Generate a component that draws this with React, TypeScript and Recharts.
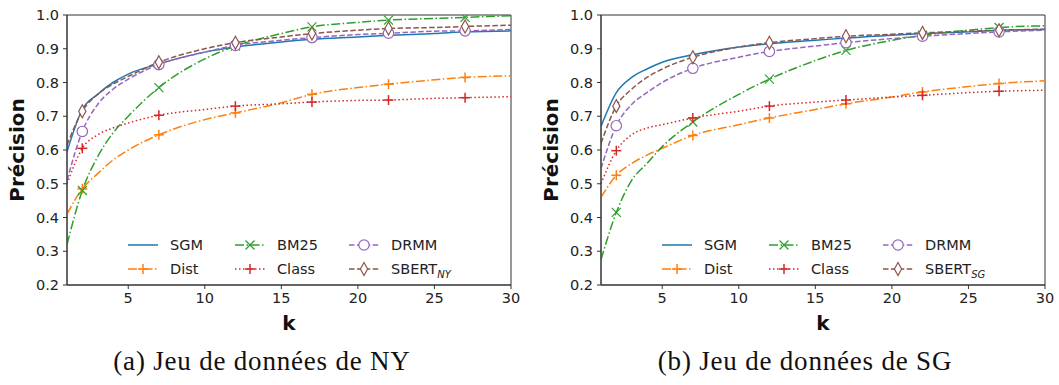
import React from 'react';
import {
  LineChart,
  Line,
  XAxis,
  YAxis,
  ReferenceArea,
} from 'recharts';

const KS = [1, 2, 3, 4, 5, 7, 10, 12, 15, 17, 20, 22, 25, 27, 30];
const MARKER_KS = [2, 7, 12, 17, 22, 27];
const X_TICKS = [5, 10, 15, 20, 25, 30];
const Y_TICKS = [0.2, 0.3, 0.4, 0.5, 0.6, 0.7, 0.8, 0.9, 1.0];

// (a) NY dataset
const nySGM = [0.595, 0.72, 0.765, 0.8, 0.825, 0.855, 0.89, 0.905, 0.92, 0.928, 0.935, 0.94, 0.945, 0.95, 0.953];
const nyDist = [0.41, 0.485, 0.53, 0.57, 0.6, 0.645, 0.69, 0.71, 0.74, 0.765, 0.785, 0.795, 0.808, 0.815, 0.82];
const nyBM25 = [0.32, 0.48, 0.58, 0.65, 0.7, 0.785, 0.87, 0.908, 0.945, 0.965, 0.978, 0.985, 0.99, 0.993, 0.998];
const nyClass = [0.5, 0.605, 0.645, 0.665, 0.68, 0.703, 0.72, 0.73, 0.737, 0.742, 0.747, 0.748, 0.753, 0.755, 0.758];
const nyDRMM = [0.51, 0.655, 0.735, 0.78, 0.81, 0.853, 0.89, 0.91, 0.925, 0.933, 0.942, 0.946, 0.952, 0.953, 0.957];
const nySBERT = [0.615, 0.715, 0.765, 0.795, 0.818, 0.86, 0.9, 0.918, 0.935, 0.945, 0.955, 0.96, 0.963, 0.966, 0.97];

// (b) SG dataset
const sgSGM = [0.67, 0.77, 0.815, 0.84, 0.86, 0.882, 0.905, 0.915, 0.925, 0.932, 0.94, 0.945, 0.95, 0.955, 0.957];
const sgDist = [0.46, 0.525, 0.56, 0.585, 0.605, 0.643, 0.675, 0.695, 0.72, 0.737, 0.757, 0.772, 0.788, 0.797, 0.805];
const sgBM25 = [0.275, 0.415, 0.51, 0.56, 0.61, 0.683, 0.765, 0.81, 0.865, 0.895, 0.925, 0.94, 0.955, 0.963, 0.968];
const sgClass = [0.5, 0.598, 0.645, 0.665, 0.675, 0.695, 0.715, 0.73, 0.742, 0.748, 0.757, 0.762, 0.77, 0.774, 0.777];
const sgDRMM = [0.545, 0.672, 0.735, 0.77, 0.8, 0.842, 0.875, 0.892, 0.908, 0.918, 0.93, 0.937, 0.945, 0.95, 0.955];
const sgSBERT = [0.62, 0.73, 0.78, 0.815, 0.84, 0.875, 0.905, 0.918, 0.93, 0.937, 0.943, 0.947, 0.952, 0.955, 0.958];

type Marker = 'none' | 'plus' | 'x' | 'circle' | 'diamond';

interface SeriesStyle {
  key: string;
  name: string;
  color: string;
  dash?: string;
  marker: Marker;
}

const STYLES: SeriesStyle[] = [
  { key: 'sgm', name: 'SGM', color: '#1f77b4', marker: 'none' },
  { key: 'dist', name: 'Dist', color: '#ff7f0e', dash: '9 2.5 1.5 2.5', marker: 'plus' },
  { key: 'bm25', name: 'BM25', color: '#2ca02c', dash: '9 2.5 1.5 2.5', marker: 'x' },
  { key: 'cls', name: 'Class', color: '#d62728', dash: '1.5 2.5', marker: 'plus' },
  { key: 'drmm', name: 'DRMM', color: '#9467bd', dash: '5.5 2.4', marker: 'circle' },
  { key: 'sbert', name: 'SBERT', color: '#8c564b', dash: '5.5 2.4', marker: 'diamond' },
];

const FONT = '"DejaVu Sans", sans-serif';

function MarkerShape({ type, cx, cy, color }: { type: Marker; cx: number; cy: number; color: string }) {
  if (type === 'plus') {
    return (
      <g stroke={color} strokeWidth={1.5}>
        <line x1={cx - 5} y1={cy} x2={cx + 5} y2={cy} />
        <line x1={cx} y1={cy - 5} x2={cx} y2={cy + 5} />
      </g>
    );
  }
  if (type === 'x') {
    return (
      <g stroke={color} strokeWidth={1.2}>
        <line x1={cx - 4.5} y1={cy - 4.5} x2={cx + 4.5} y2={cy + 4.5} />
        <line x1={cx - 4.5} y1={cy + 4.5} x2={cx + 4.5} y2={cy - 4.5} />
      </g>
    );
  }
  if (type === 'circle') {
    return <circle cx={cx} cy={cy} r={5.2} fill="white" stroke={color} strokeWidth={1.2} />;
  }
  if (type === 'diamond') {
    return (
      <polygon
        points={`${cx},${cy - 6.5} ${cx + 3.6},${cy} ${cx},${cy + 6.5} ${cx - 3.6},${cy}`}
        fill="white"
        stroke={color}
        strokeWidth={1.2}
      />
    );
  }
  return null;
}

function makeDot(s: SeriesStyle) {
  return (props: any) => {
    const { cx, cy, payload, index } = props;
    if (s.marker === 'none' || !MARKER_KS.includes(payload.k)) {
      return <g key={`${s.key}-${index}`} />;
    }
    return (
      <g key={`${s.key}-${index}`}>
        <MarkerShape type={s.marker} cx={cx} cy={cy} color={s.color} />
      </g>
    );
  };
}

function LegendBox({ sub }: { sub: string }) {
  // matplotlib-like legend, 3 columns x 2 rows (column-major order)
  const colX = [61, 168, 282];
  const rowY = [12, 36];
  return (
    <svg width={400} height={50} style={{ overflow: 'visible', display: 'block' }}>
      {STYLES.map((s, i) => {
        const col = Math.floor(i / 2);
        const row = i % 2;
        const x = colX[col];
        const y = rowY[row];
        return (
          <g key={s.key}>
            <line x1={x} y1={y} x2={x + 30} y2={y} stroke={s.color} strokeWidth={1.5} strokeDasharray={s.dash} />
            <MarkerShape type={s.marker} cx={x + 15} cy={y} color={s.color} />
            <text x={x + 42} y={y + 5} fontFamily={FONT} fontSize={14.5} fill="#222">
              {s.name}
              {s.key === 'sbert' && (
                <tspan dy={4} fontSize={10} fontStyle="italic">
                  {sub}
                </tspan>
              )}
            </text>
          </g>
        );
      })}
    </svg>
  );
}

function Panel({ values, sub, left }: { values: number[][]; sub: string; left: number }) {
  const data = KS.map((k, i) => {
    const row: any = { k };
    STYLES.forEach((s, j) => {
      row[s.key] = values[j][i];
    });
    return row;
  });

  return (
    <div style={{ position: 'absolute', left, top: 0, width: 530, height: 340 }}>
      <LineChart width={530} height={340} data={data} margin={{ top: 15, right: 19, bottom: 10, left: 0 }}>
        <XAxis
          dataKey="k"
          type="number"
          domain={[1, 30]}
          ticks={X_TICKS}
          allowDataOverflow
          height={45}
          tickSize={4}
          tickMargin={4}
          stroke="#333"
          tick={{ fontFamily: FONT, fontSize: 14.5, fill: '#222' }}
          label={{
            value: 'k',
            position: 'insideBottom',
            offset: 0,
            style: { fontFamily: FONT, fontSize: 20, fontWeight: 'bold', fill: '#111' },
          }}
        />
        <YAxis
          type="number"
          domain={[0.2, 1.0]}
          ticks={Y_TICKS}
          allowDataOverflow
          width={67}
          tickSize={4}
          tickMargin={4}
          stroke="#333"
          tickFormatter={(v: number) => v.toFixed(1)}
          tick={{ fontFamily: FONT, fontSize: 14.5, fill: '#222' }}
          label={{
            content: (p: any) => {
              const vb = p.viewBox;
              const cx = vb.x + 17;
              const cy = vb.y + vb.height / 2;
              return (
                <text
                  x={cx}
                  y={cy}
                  transform={`rotate(-90 ${cx} ${cy})`}
                  textAnchor="middle"
                  dominantBaseline="central"
                  fontFamily={FONT}
                  fontSize={20}
                  fontWeight="bold"
                  fill="#111"
                >
                  Précision
                </text>
              );
            },
          }}
        />
        <ReferenceArea x1={1} x2={30} y1={0.2} y2={1.0} fill="none" stroke="#333" strokeWidth={1} />
        {STYLES.map((s) => (
          <Line
            key={s.key}
            dataKey={s.key}
            type="monotone"
            stroke={s.color}
            strokeWidth={1.5}
            strokeDasharray={s.dash}
            dot={makeDot(s)}
            activeDot={false}
            isAnimationActive={false}
          />
        ))}
      </LineChart>
      <div style={{ position: 'absolute', left: 67, top: 233 }}>
        <LegendBox sub={sub} />
      </div>
    </div>
  );
}

const captionStyle: React.CSSProperties = {
  position: 'absolute',
  top: 345,
  width: 420,
  textAlign: 'center',
  fontFamily: '"Liberation Serif", serif',
  fontSize: 27,
  letterSpacing: 0.8,
  color: '#111',
  lineHeight: '32px',
};

export default function App() {
  return (
    <div style={{ position: 'absolute', left: 0, top: 0, width: 1059, height: 385, background: '#fff' }}>
      <Panel values={[nySGM, nyDist, nyBM25, nyClass, nyDRMM, nySBERT]} sub="NY" left={0} />
      <Panel values={[sgSGM, sgDist, sgBM25, sgClass, sgDRMM, sgSBERT]} sub="SG" left={534} />
      <div style={{ ...captionStyle, left: 52 }}>(a) Jeu de données de NY</div>
      <div style={{ ...captionStyle, left: 595 }}>(b) Jeu de données de SG</div>
    </div>
  );
}
